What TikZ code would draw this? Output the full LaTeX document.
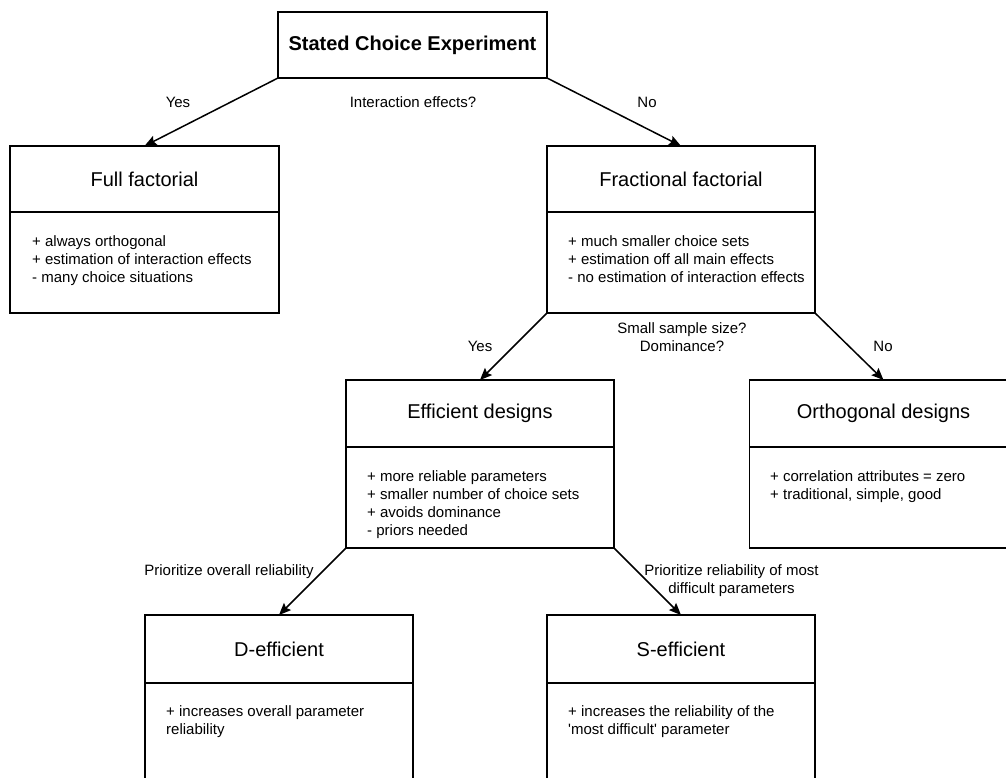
\documentclass[tikz,border=0pt]{standalone}
\usepackage{fontspec}
\setmainfont{Liberation Sans}
\usetikzlibrary{arrows.meta}
\begin{document}
\begin{tikzpicture}[x=1pt,y=-1pt,
  head/.style={draw, line width=1.5pt, minimum width=268pt, minimum height=66pt,
    inner sep=0pt, outer sep=0pt, anchor=north west, font=\fontsize{20}{24}\selectfont},
  body/.style={draw, line width=1.5pt, minimum width=268pt, minimum height=101pt,
    inner sep=0pt, outer sep=0pt, anchor=north west},
  bodytext/.style={anchor=north west, inner sep=0pt, align=left,
    font=\fontsize{15}{18}\selectfont},
  lbl/.style={inner sep=0pt, align=center, font=\fontsize{15}{18}\selectfont},
  link/.style={line width=1.5pt, -{Stealth[length=12pt,width=10pt,inset=2pt]}}]
\fill[white] (0,0) rectangle (1006,778);
\useasboundingbox (0,0) rectangle (1006,778);
\clip (0,0) rectangle (1006,778);

% root
\node[head, minimum width=269pt, font=\bfseries\fontsize{20}{24}\selectfont] (sce) at (278,12) {Stated Choice Experiment};

% first level
\node[head, minimum width=269pt] (full) at (10,146) {Full factorial};
\node[body, minimum width=269pt] (fullb) at (10,212) {};
\node[bodytext] (fullt) at (32,235.5) {+ always orthogonal\\+ estimation of interaction effects\\- many choice situations};

\node[head] (frac) at (547,146) {Fractional factorial};
\node[body] (fracb) at (547,212) {};
\node[bodytext] (fract) at (568,235.5) {+ much smaller choice sets\\+ estimation off all main effects\\- no estimation of interaction effects};

% second level
\node[head, minimum height=67pt] (eff) at (346,380) {Efficient designs};
\node[body] (effb) at (346,447) {};
\node[bodytext] (efft) at (367,470.5) {+ more reliable parameters\\+ smaller number of choice sets\\+ avoids dominance\\- priors needed};

\node[head, minimum height=67pt] (orth) at (749.5,380) {Orthogonal designs};
\node[body] (orthb) at (749.5,447) {};
\node[bodytext] (ortht) at (770,470.5) {+ correlation attributes = zero\\+ traditional, simple, good};

% third level
\node[head, minimum height=68pt] (deff) at (145,615) {D-efficient};
\node[body] (deffb) at (145,683) {};
\node[bodytext] (defft) at (166,705.5) {+ increases overall parameter\\reliability};

\node[head, minimum height=68pt] (seff) at (547,615) {S-efficient};
\node[body] (seffb) at (547,683) {};
\node[bodytext] (sefft) at (568,705.5) {+ increases the reliability of the\\\textquotesingle most difficult\textquotesingle{} parameter};

% connectors
\draw[link] (sce.south west) -- (full.north);
\draw[link] (sce.south east) -- (frac.north);
\draw[link] (fracb.south west) -- (eff.north);
\draw[link] (fracb.south east) -- (orth.north);
\draw[link] (effb.south west) -- (deff.north);
\draw[link] (effb.south east) -- (seff.north);

% edge labels
\node[lbl] (yes1) at (178,102) {Yes};
\node[lbl] (q1) at (413,102) {Interaction effects?};
\node[lbl] (no1) at (647,102) {No};
\node[lbl] (q2) at (682,337) {Small sample size?\\Dominance?};
\node[lbl] (yes2) at (480,346) {Yes};
\node[lbl] (no2) at (883,346) {No};
\node[lbl] (p1) at (229,572) {Prioritize overall reliability};
\node[lbl] (p2) at (731.5,580.5) {Prioritize reliability of most\\difficult parameters};
\end{tikzpicture}
\end{document}
